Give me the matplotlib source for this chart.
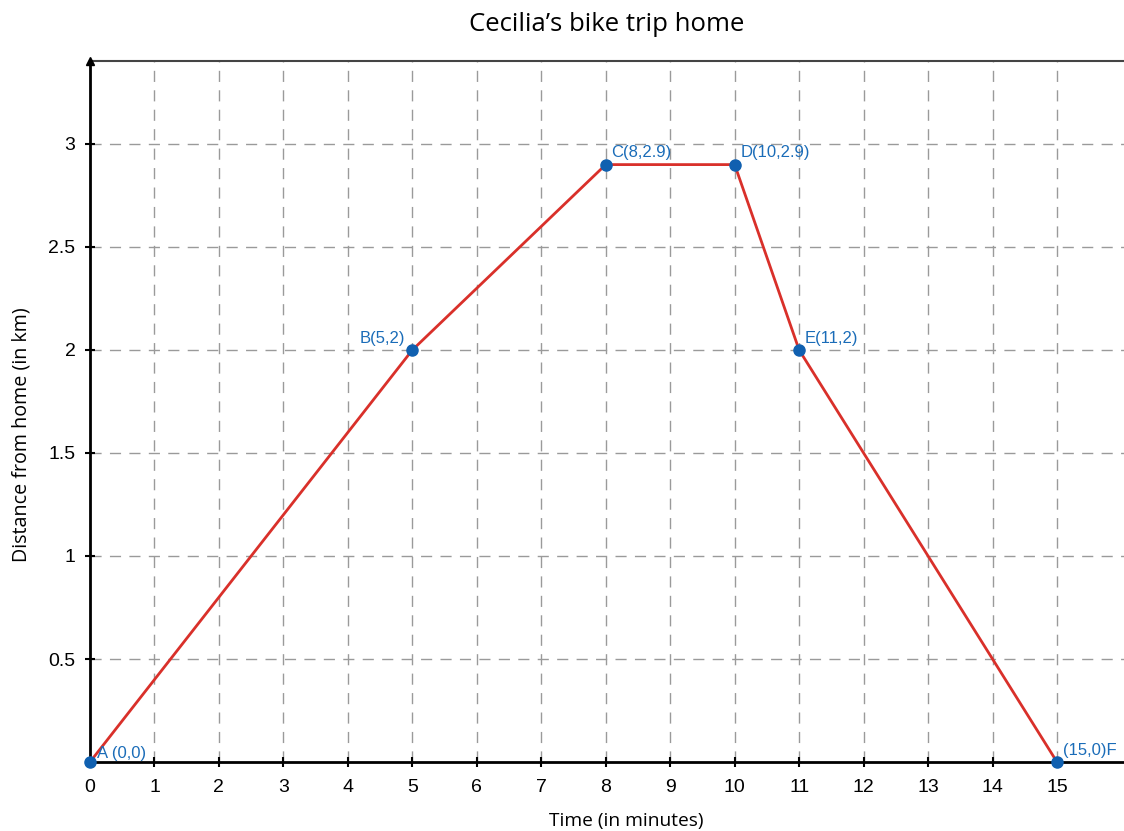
import matplotlib
matplotlib.use("Agg")
import matplotlib.pyplot as plt

times = [0, 5, 8, 10, 11, 15]
distances = [0, 2, 2.9, 2.9, 2, 0]
point_labels = ["A (0,0)", "B(5,2)", "C(8,2.9)", "D(10,2.9)", "E(11,2)", "(15,0)F"]
label_offsets = [(5, 1, "left"), (-5, 3, "right"), (4, 3, "left"), (4, 3, "left"), (4, 3, "left"), (4, 3, "left")]
x_ticks = list(range(0, 16))
y_ticks = [0.5, 1, 1.5, 2, 2.5, 3]
y_tick_labels = ["0.5", "1", "1.5", "2", "2.5", "3"]

W, H = 1124, 831
fig = plt.figure(figsize=(W / 100, H / 100), dpi=100)
left, right, top, bottom = 90, 1124, 61, 762
ax = fig.add_axes([left / W, (H - bottom) / H, (right - left) / W, (bottom - top) / H])

xpp = 15 / (1057 - 90)
ypp = 3 / (762 - 144)
ax.set_xlim(0, (right - left) * xpp)
ax.set_ylim(0, (bottom - top) * ypp)

grid_kw = dict(color="#9a9a9a", linewidth=1, dashes=(8, 6), zorder=1)
for x in x_ticks[1:]:
    ax.axvline(x, **grid_kw)
for y in y_ticks:
    ax.axhline(y, **grid_kw)

ax.plot(times, distances, color="#d9302a", linewidth=2, zorder=3)
ax.plot(times, distances, "o", color="#1060b0", markersize=8, zorder=4, clip_on=False)

tick_font = "Liberation Sans"
for (x, y, lab, (dx, dy, ha)) in zip(times, distances, point_labels, label_offsets):
    ax.annotate(lab, (x, y), xytext=(dx, dy), textcoords="offset points",
                ha=ha, va="bottom", color="#1a6cb8", fontsize=12,
                family=tick_font, zorder=5)

ax.spines["right"].set_visible(False)
ax.spines["top"].set_color("#444444")
ax.spines["top"].set_linewidth(1.5)
ax.spines["left"].set_linewidth(2)
ax.spines["bottom"].set_linewidth(2)

ax.plot([0], [1], marker="^", transform=ax.transAxes, color="black",
        markersize=6, clip_on=False, zorder=6)

ax.set_xticks(x_ticks)
ax.set_xticklabels([str(t) for t in x_ticks], fontsize=14, family=tick_font)
ax.set_yticks(y_ticks)
ax.set_yticklabels(y_tick_labels, fontsize=14, family=tick_font)
ax.tick_params(axis="y", direction="inout", length=7, width=1.5, pad=7)
ax.tick_params(axis="x", direction="inout", length=7, width=1.5, pad=8.5)

ax.set_title("Cecilia\u2019s bike trip home", fontsize=18.5, family="Open Sans", pad=21.5)
ax.set_xlabel("Time (in minutes)", fontsize=13.8, family="Open Sans", labelpad=12.5)
ax.set_ylabel("Distance from home (in km)", fontsize=14.2, family="Open Sans", labelpad=12)
ax.xaxis.set_label_coords((626 - left) / (right - left), -0.072)
ax.yaxis.label.set_y((bottom - 435) / (bottom - top))

fig.savefig("out.png", dpi=100)
